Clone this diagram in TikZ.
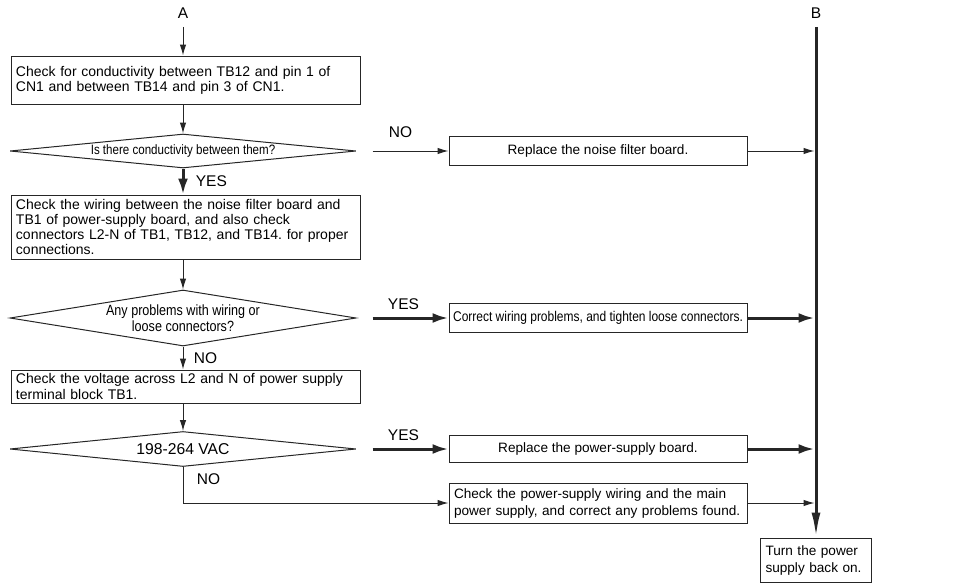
\documentclass[tikz,border=0pt]{standalone}
\usepackage{fontspec}
\setmainfont{Liberation Sans}
\newfontfamily\narrowfont{Liberation Sans}[FakeStretch=0.85]
\usepackage{tikz}
\usetikzlibrary{arrows.meta, positioning, shapes.geometric}
\definecolor{linegray}{HTML}{262626}
\frenchspacing

\begin{document}
\begin{tikzpicture}[x=1pt, y=-1pt,
    every node/.style={font=\fontsize{14}{15.2}\selectfont, text=black},
    box/.style={
        rectangle,
        draw=linegray,
        line width=1pt,
        align=left,
        inner xsep=6pt,
        inner ysep=2pt
    },
    leftbox/.style={box, minimum width=349pt, inner xsep=5pt, text width=339pt},
    rightbox/.style={box, minimum width=298pt, font=\fontsize{13.6}{17}\selectfont},
    decision/.style={
        diamond,
        draw=linegray,
        line width=1pt,
        inner sep=0pt,
        align=center,
        minimum width=346pt
    },
    arrow/.style={-{Latex[length=11pt, width=6.5pt]}, line width=1pt, color=linegray},
    bigarrow/.style={-{Latex[length=16pt, width=10pt]}, line width=3pt, color=linegray},
    busline/.style={-{Latex[length=25pt, width=9pt]}, line width=3pt, color=linegray},
    labelnode/.style={font=\fontsize{15.5}{17}\selectfont}
]
\useasboundingbox (0,0) rectangle (962,584);

% ENTRY POINTS
\node[labelnode] (A) at (183,13) {A};
\node[labelnode] (B) at (816,13) {B};

% LEFT COLUMN
\node[leftbox, minimum height=48pt] (cond) at (185.5,80) {Check for conductivity between TB12 and pin 1 of\\CN1 and between TB14 and pin 3 of CN1.};
\node[decision, aspect=10.2, minimum height=34pt, font=\narrowfont\fontsize{13.6}{15}\selectfont] (isc) at (183,151) {Is there conductivity between them?};
\node[leftbox, minimum height=64pt] (wire) at (185.5,227) {Check the wiring between the noise filter board and\\TB1 of power-supply board, and also check\\connectors L2-N of TB1, TB12, and TB14. for proper\\connections.};
\node[decision, aspect=6.2, minimum height=56pt, font=\narrowfont\fontsize{14.8}{15.5}\selectfont] (prob) at (183,318) {Any problems with wiring or\\loose connectors?};
\node[leftbox, minimum height=33pt] (volt) at (185.5,386.5) {Check the voltage across L2 and N of power supply\\terminal block TB1.};
\node[decision, aspect=10, minimum height=35pt, font=\fontsize{15.7}{17}\selectfont] (vac) at (183,449) {198-264 VAC};

% RIGHT COLUMN
\node[rightbox, minimum height=29pt] (nfb) at (598,151) {Replace the noise filter board.};
\node[rightbox, minimum height=29pt, inner xsep=3pt, font=\narrowfont\fontsize{14.1}{15.5}\selectfont] (tight) at (598,318) {Correct wiring problems, and tighten loose connectors.};
\node[rightbox, minimum height=27pt] (psb) at (598,449) {Replace the power-supply board.};
\node[rightbox, minimum height=40pt, text width=288pt, inner xsep=5pt] (wiring) at (598,503) {Check the power-supply wiring and the main\\power supply, and correct any problems found.};
\node[rightbox, minimum width=111pt, minimum height=44pt, text width=101pt, inner xsep=5pt] (done) at (816,560) {Turn the power\\supply back on.};

% ARROWS
\draw[arrow] ([yshift=-5pt]A.south) -- (cond.north -| A);
\draw[arrow] (cond.south -| isc) -- (isc.north);
\draw[bigarrow] (isc.south) -- node[labelnode, right=8pt] {YES} (wire.north -| isc);
\draw[arrow] (wire.south -| prob) -- (prob.north);
\draw[arrow] (prob.south) -- node[labelnode, right=7pt] {NO} (volt.north -| prob);
\draw[arrow] (volt.south -| vac) -- (vac.north);
\draw[arrow] (vac.south) -- node[labelnode, right=10pt, pos=0.35] {NO} (vac.south |- wiring.west) -- (wiring.west);

\draw[arrow] ([xshift=16pt]isc.east) -- node[labelnode, above=10pt, xshift=-10pt] {NO} (nfb.west);
\draw[bigarrow] ([xshift=16pt]prob.east) -- node[labelnode, above=4pt, xshift=-7pt] {YES} (tight.west);
\draw[bigarrow] ([xshift=16pt]vac.east) -- node[labelnode, above=4pt, xshift=-7pt] {YES} (psb.west);

% TO B
\draw[busline] ([yshift=-5pt]B.south) -- (done.north);
\draw[arrow, shorten >=1.5pt] (nfb.east) -- (nfb -| B);
\draw[bigarrow, shorten >=1.5pt] (tight.east) -- (tight -| B);
\draw[bigarrow, shorten >=1.5pt] (psb.east) -- (psb -| B);
\draw[arrow, shorten >=1.5pt] (wiring.east) -- (wiring -| B);

\end{tikzpicture}
\end{document}
